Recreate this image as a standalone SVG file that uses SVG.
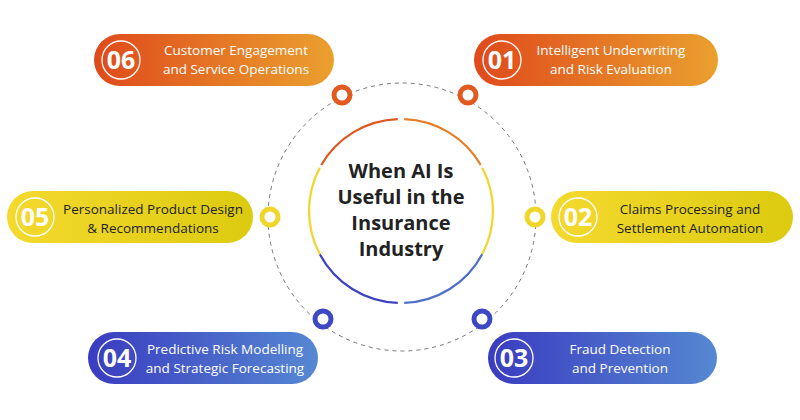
<svg xmlns="http://www.w3.org/2000/svg" width="800" height="420" viewBox="0 0 800 420">
<defs>
<linearGradient id="gO" x1="0" x2="1"><stop offset="0" stop-color="#df4a1c"/><stop offset="1" stop-color="#eaa02e"/></linearGradient>
<linearGradient id="gY" x1="0" x2="1"><stop offset="0" stop-color="#f4d92e"/><stop offset="1" stop-color="#dccb10"/></linearGradient>
<linearGradient id="gB" x1="0" x2="1"><stop offset="0" stop-color="#3a3cc0"/><stop offset="1" stop-color="#5688d2"/></linearGradient>
<style>
.num{fill:none;stroke:#fff;stroke-width:1.3}
.n{font-family:"Open Sans","DejaVu Sans",sans-serif;font-weight:bold;font-size:25px;fill:#fff;text-anchor:middle}
.t{font-family:"Open Sans","DejaVu Sans",sans-serif;font-size:13.5px;fill:#fff;text-anchor:middle}
.d{fill:#222}
.c{font-family:"Open Sans","DejaVu Sans",sans-serif;font-weight:bold;font-size:20px;fill:#222;text-anchor:middle}
.dot{fill:#fff;stroke-width:5}
.arc{fill:none;stroke-width:2.2}
</style>
</defs>
<g id="connectors">
<circle cx="402" cy="217" r="134" fill="none" stroke="#777" stroke-width="1" stroke-dasharray="4 4"/>
<circle class="dot" cx="342" cy="95" r="8" stroke="#e35a20"/>
<circle class="dot" cx="468" cy="95" r="8" stroke="#e35a20"/>
<circle class="dot" cx="270" cy="217" r="8" stroke="#f0d52a"/>
<circle class="dot" cx="535" cy="217" r="8" stroke="#f0d52a"/>
<circle class="dot" cx="323" cy="319" r="8" stroke="#3f48c4"/>
<circle class="dot" cx="482" cy="319" r="8" stroke="#3f48c4"/>
</g>
<g id="center">
<path class="arc" stroke="#e0561e" d="M321.3,165 A92,92 0 0 1 397.8,119.1"/>
<path class="arc" stroke="#e77d24" d="M404.2,119.1 A92,92 0 0 1 480.7,165"/>
<path class="arc" stroke="#f0d52a" d="M482.2,167.8 A92,92 0 0 1 482.2,254.2"/>
<path class="arc" stroke="#4f6fcc" d="M482.2,254.2 A92,92 0 0 1 404.2,302.9"/>
<path class="arc" stroke="#3d42c0" d="M397.8,302.9 A92,92 0 0 1 319.8,254.2"/>
<path class="arc" stroke="#f0d52a" d="M319.8,254.2 A92,92 0 0 1 319.8,167.8"/>
<text class="c" x="401" y="178">When AI Is</text>
<text class="c" x="401" y="204">Useful in the</text>
<text class="c" x="401" y="230">Insurance</text>
<text class="c" x="401" y="256">Industry</text>
</g>
<g id="n06"><rect x="94" y="34" width="240" height="52" rx="26" fill="url(#gO)"/><circle class="num" cx="121" cy="60" r="19"/><text class="n" x="121" y="69">06</text><text class="t" x="236" y="55">Customer Engagement</text><text class="t" x="236" y="74">and Service Operations</text></g>
<g id="n01"><rect x="474" y="34" width="244" height="52" rx="26" fill="url(#gO)"/><circle class="num" cx="502" cy="60" r="19"/><text class="n" x="502" y="69">01</text><text class="t" x="611" y="55">Intelligent Underwriting</text><text class="t" x="611" y="74">and Risk Evaluation</text></g>
<g id="n05"><rect x="7" y="191" width="246" height="52" rx="26" fill="url(#gY)"/><circle class="num" cx="35" cy="217" r="19"/><text class="n" x="35" y="226">05</text><text class="t d" x="153" y="214">Personalized Product Design</text><text class="t d" x="153" y="233">&amp; Recommendations</text></g>
<g id="n02"><rect x="551" y="191" width="242" height="52" rx="26" fill="url(#gY)"/><circle class="num" cx="578" cy="217" r="19"/><text class="n" x="578" y="226">02</text><text class="t d" x="690" y="214">Claims Processing and</text><text class="t d" x="690" y="233">Settlement Automation</text></g>
<g id="n04"><rect x="88" y="332" width="230" height="52" rx="26" fill="url(#gB)"/><circle class="num" cx="117" cy="358" r="19"/><text class="n" x="117" y="367">04</text><text class="t" x="225" y="354">Predictive Risk Modelling</text><text class="t" x="225" y="373">and Strategic Forecasting</text></g>
<g id="n03"><rect x="488" y="332" width="229" height="52" rx="26" fill="url(#gB)"/><circle class="num" cx="514" cy="358" r="19"/><text class="n" x="514" y="367">03</text><text class="t" x="620" y="354">Fraud Detection</text><text class="t" x="620" y="373">and Prevention</text></g>
</svg>
